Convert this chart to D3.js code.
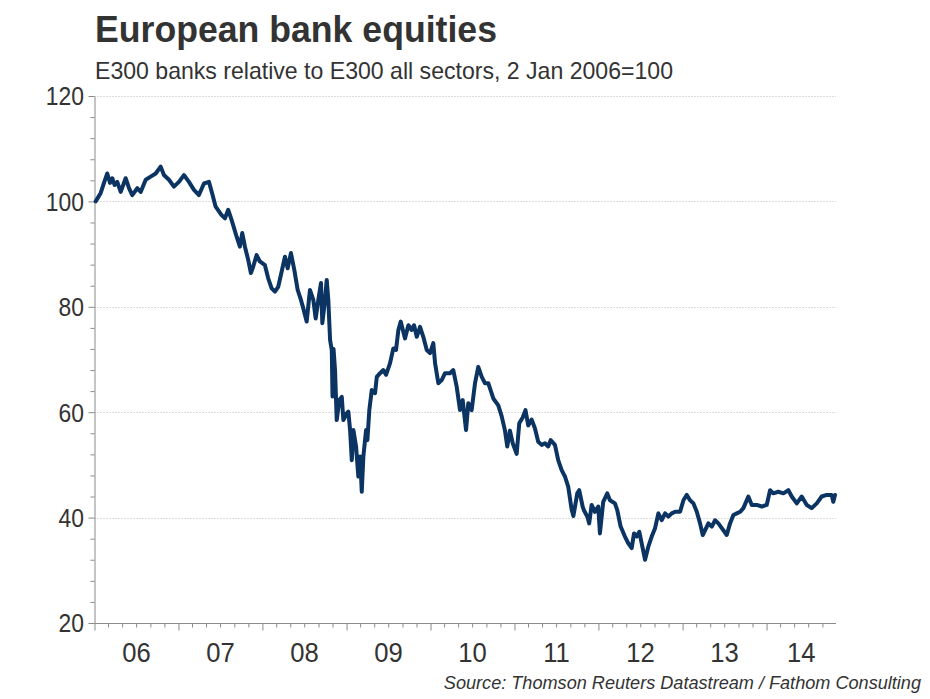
<!DOCTYPE html>
<html><head><meta charset="utf-8">
<script src="https://cdn.jsdelivr.net/npm/d3@7"></script>
<style>
body{margin:0;background:#fff}
text{font-family:"Liberation Sans",Arial,sans-serif}
</style>
</head><body>
<svg id="c" width="930" height="699"></svg>
<script>
const titleText = "European bank equities";
const subtitleText = "E300 banks relative to E300 all sectors, 2 Jan 2006=100";
const sourceText = "Source: Thomson Reuters Datastream / Fathom Consulting";
const yTickValues = [20, 40, 60, 80, 100, 120];
const yearLabels = ["06","07","08","09","10","11","12","13","14"];
const years = [2006,2007,2008,2009,2010,2011,2012,2013,2014];

// dates as decimal years
const dates = [
2006.014,2006.074,2006.113,2006.152,2006.185,2006.212,2006.240,2006.271,2006.312,2006.371,
2006.411,2006.450,2006.510,2006.550,2006.610,2006.669,2006.729,2006.788,2006.827,2006.887,
2006.946,2007.006,2007.065,2007.125,2007.185,2007.244,2007.304,2007.363,2007.402,2007.443,
2007.514,2007.554,2007.593,2007.633,2007.693,2007.732,2007.760,2007.792,2007.831,2007.863,
2007.890,2007.931,2007.970,2008.030,2008.069,2008.110,2008.149,2008.188,2008.229,2008.268,
2008.300,2008.339,2008.379,2008.419,2008.458,2008.486,2008.526,2008.565,2008.605,2008.633,
2008.664,2008.696,2008.712,2008.744,2008.764,2008.783,2008.804,2008.824,2008.833,2008.845,
2008.863,2008.883,2008.914,2008.943,2008.962,2009.002,2009.021,2009.042,2009.062,2009.081,
2009.113,2009.140,2009.161,2009.181,2009.200,2009.232,2009.248,2009.271,2009.300,2009.339,
2009.360,2009.399,2009.438,2009.470,2009.518,2009.557,2009.589,2009.617,2009.645,2009.696,
2009.736,2009.776,2009.804,2009.836,2009.875,2009.914,2009.955,2009.994,2010.033,2010.054,
2010.093,2010.133,2010.173,2010.232,2010.271,2010.312,2010.351,2010.383,2010.423,2010.450,
2010.490,2010.530,2010.569,2010.610,2010.649,2010.688,2010.748,2010.807,2010.848,2010.887,
2010.914,2010.946,2010.979,2011.026,2011.057,2011.098,2011.131,2011.164,2011.205,2011.244,
2011.283,2011.324,2011.363,2011.402,2011.431,2011.482,2011.521,2011.562,2011.601,2011.640,
2011.681,2011.702,2011.748,2011.771,2011.812,2011.827,2011.867,2011.890,2011.919,2011.958,
2011.998,2012.018,2012.057,2012.105,2012.137,2012.196,2012.224,2012.264,2012.315,2012.355,
2012.395,2012.423,2012.455,2012.486,2012.514,2012.554,2012.593,2012.633,2012.673,2012.712,
2012.752,2012.792,2012.831,2012.871,2012.911,2012.970,2013.010,2013.050,2013.089,2013.129,
2013.169,2013.208,2013.240,2013.268,2013.307,2013.348,2013.387,2013.426,2013.467,2013.526,
2013.565,2013.605,2013.645,2013.685,2013.724,2013.783,2013.824,2013.883,2013.943,2014.002,
2014.042,2014.081,2014.140,2014.200,2014.260,2014.300,2014.360,2014.419,2014.479,2014.538,
2014.598,2014.657,2014.717,2014.776,2014.795,2014.815
];
const values = [
100.0,101.6,103.5,105.3,103.5,104.4,103.1,103.7,101.8,104.4,
102.5,101.2,102.5,101.8,104.1,104.7,105.3,106.6,105.0,104.1,
102.8,103.7,105.0,103.7,102.2,101.2,103.4,103.7,101.5,99.0,
97.4,96.8,98.4,96.5,93.3,91.4,94.0,91.4,88.9,86.4,
87.6,89.8,88.6,87.9,85.4,83.5,82.9,83.8,86.7,89.5,
87.3,90.2,87.0,83.2,81.3,79.7,77.2,83.2,81.3,77.8,
81.3,84.5,76.9,81.3,85.1,81.3,73.7,71.8,63.0,72.0,
68.0,58.5,62.3,62.9,58.5,59.8,60.1,56.6,50.9,56.6,
53.5,47.8,51.6,44.9,51.6,56.6,54.7,60.4,64.2,63.6,
66.7,67.4,68.0,67.1,69.3,72.1,71.8,75.6,77.2,74.0,
76.5,75.6,76.5,74.3,76.2,74.3,71.8,71.2,73.1,69.3,
65.5,66.1,67.4,67.4,68.0,64.8,60.4,62.3,56.6,61.7,
60.4,65.5,68.6,66.7,65.5,65.5,62.6,61.3,59.2,56.5,
53.5,56.5,54.1,52.1,57.9,59.0,60.4,57.5,58.6,56.9,
54.4,53.8,54.1,53.5,54.7,53.8,50.9,49.0,47.8,45.9,
41.5,40.3,44.6,45.2,42.1,41.4,40.2,38.9,42.4,41.1,
42.1,37.0,43.0,44.6,43.3,42.7,41.4,38.3,36.4,35.1,
34.2,37.0,36.4,37.3,35.1,32.0,34.5,36.4,38.0,40.8,
39.5,40.8,40.2,40.8,41.1,41.1,43.3,44.3,43.3,42.7,
41.1,38.9,36.7,37.6,38.9,38.3,39.5,38.9,38.0,36.7,
38.9,40.5,40.8,41.1,41.8,44.0,42.4,42.4,42.1,42.4,
45.2,44.6,44.9,44.6,45.2,44.0,42.7,44.0,42.4,41.8,
42.7,44.0,44.3,44.3,43.0,44.3
];

function decToDate(d){
  const yr = Math.floor(d);
  const s = new Date(yr,0,1).getTime(), e = new Date(yr+1,0,1).getTime();
  return new Date(s + (d-yr)*(e-s));
}
const data = dates.map((d,i)=>({date:decToDate(d), value:values[i]}));

const svg = d3.select("#c");
const x = d3.scaleTime().domain([new Date(2006,0,1), new Date(2015,0,1)]).range([94.5, 850.5]);
const y = d3.scaleLinear().domain([20,120]).range([623, 96]);
const xEnd = 836;
const axisColor = "#8a8a8a";
const textColor = "#333333";

// gridlines
svg.append("g").selectAll("line").data(yTickValues.filter(v=>v>20)).join("line")
  .attr("x1",94.5).attr("x2",xEnd).attr("y1",d=>Math.round(y(d))+0.5).attr("y2",d=>Math.round(y(d))+0.5)
  .attr("stroke","#b8b8b8").attr("stroke-width",1).attr("stroke-dasharray","1,2");

// y minor ticks
const yMinor = d3.range(20,121,4).filter(v=>v%20!==0);
const gyMinor = svg.append("g").attr("transform","translate(94.5,0)")
  .call(d3.axisLeft(y).tickValues(yMinor).tickSize(4).tickFormat(""));
gyMinor.select(".domain").remove();
gyMinor.selectAll("line").attr("stroke",axisColor);

// y axis
const gy = svg.append("g").attr("transform","translate(94.5,0)")
  .call(d3.axisLeft(y).tickValues(yTickValues).tickSize(6).tickSizeOuter(0).tickFormat(""));
gy.select(".domain").attr("stroke",axisColor);
gy.selectAll("line").attr("stroke",axisColor);
svg.append("g").selectAll("text").data(yTickValues).join("text")
  .attr("transform",d=>`translate(84,${y(d)}) scale(0.88,1)`)
  .attr("dy","0.36em").attr("text-anchor","end").attr("fill",textColor)
  .style("font-size","26px").text(d=>d);

// x axis
const xMinor = d3.timeMonth.every(2).range(new Date(2006,0,1), new Date(2014,11,1)).filter(d=>d.getMonth()!==0 && x(d)<=xEnd);
const gxMinor = svg.append("g").attr("transform","translate(0,623.5)")
  .call(d3.axisBottom(x).tickValues(xMinor).tickSize(4).tickFormat(""));
gxMinor.select(".domain").remove();
gxMinor.selectAll("line").attr("stroke",axisColor);

const yearDates = years.map(yr=>new Date(yr,0,1));
const gx = svg.append("g").attr("transform","translate(0,623.5)")
  .call(d3.axisBottom(x).tickValues(yearDates).tickSize(7).tickFormat(""));
gx.select(".domain").remove();
gx.selectAll("line").attr("stroke",axisColor);
svg.append("line").attr("x1",94.5).attr("x2",xEnd).attr("y1",623.5).attr("y2",623.5).attr("stroke",axisColor);

svg.append("g").selectAll("text").data(years).join("text")
  .attr("transform",(yr)=>`translate(${(x(new Date(yr,0,1)) + Math.min(x(new Date(yr+1,0,1)), xEnd))/2},662) scale(0.95,1)`)
  .attr("text-anchor","middle").attr("fill",textColor).style("font-size","27px")
  .text((yr,i)=>yearLabels[i]);

// line
const line = d3.line().x(d=>x(d.date)).y(d=>y(d.value));
svg.append("path").datum(data).attr("d",line).attr("fill","none")
  .attr("stroke","#0b3463").attr("stroke-width",4).attr("stroke-linejoin","round").attr("stroke-linecap","round");

// titles
svg.append("text").attr("x",95).attr("y",42).attr("fill",textColor)
  .attr("textLength",402).attr("lengthAdjust","spacingAndGlyphs")
  .style("font-size","37px").style("font-weight","bold").text(titleText);
svg.append("text").attr("x",95).attr("y",79).attr("fill",textColor)
  .attr("textLength",578).attr("lengthAdjust","spacingAndGlyphs")
  .style("font-size","24px").text(subtitleText);
svg.append("text").attr("transform","translate(921,689) scale(0.98,1)").attr("text-anchor","end").attr("fill",textColor)
  .style("font-size","18.5px").style("font-style","italic").text(sourceText);
</script>
</body></html>
